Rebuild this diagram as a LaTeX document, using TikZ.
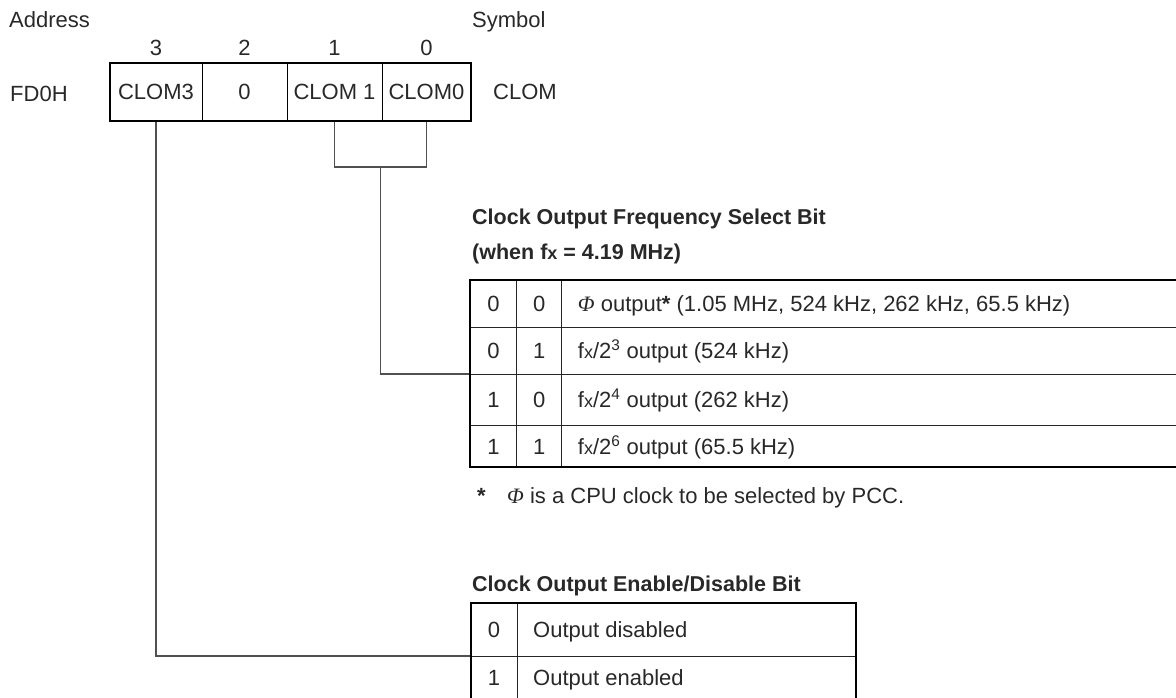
\documentclass[tikz,border=0pt]{standalone}
\usepackage{fontspec}
\setmainfont{Liberation Sans}
\newfontfamily\phifont{Liberation Serif}
\usetikzlibrary{positioning,calc}
\definecolor{InkGray}{RGB}{40,40,40}
\definecolor{WireGray}{RGB}{80,80,80}
\newcommand{\fx}{f{\fontsize{18}{18}\selectfont x}}
\newcommand{\phisym}{{\phifont\itshape Φ}}
\tikzset{
  lbl/.style={inner sep=0pt,text=InkGray,text height=16pt,text depth=0pt,
    font=\fontsize{22}{26}\selectfont},
  field/.style={lbl,draw=black,line width=0.9pt,outer sep=0pt,minimum height=58},
  cell/.style={lbl,outer sep=0pt},
  ttl/.style={lbl,anchor=west,font=\bfseries\fontsize{21.5}{25}\selectfont},
  wire/.style={draw=WireGray,line width=1.2pt},
  frame/.style={draw=black,line width=2.6pt},
  grid/.style={draw=black!85,line width=1pt},
}
\begin{document}
\begin{tikzpicture}[x=1pt,y=-1pt]
\useasboundingbox (0,0) rectangle (1176,698);
% register CLOM
\node[lbl,anchor=west] (addr) at (9,20) {Address};
\node[lbl,anchor=west] (symb) at (472,20) {Symbol};
\node[lbl,anchor=west] (fd0h) at (10,94) {FD0H};
\node[field,minimum width=92,anchor=north west] (b3) at (110,63) {CLOM3};
\node[field,minimum width=85,right=0pt of b3] (b2) {0};
\node[field,minimum width=95,right=0pt of b2] (b1) {CLOM 1};
\node[field,minimum width=89,right=0pt of b1] (b0) {CLOM0};
\foreach \b in {3,2,1,0} \node[lbl,above=7pt of b\b] (n\b) {\b};
\node[lbl,right=22pt of b0] (clom) {CLOM};

% frequency select table
\node[ttl] (t1a) at (472,217) {Clock Output Frequency Select Bit};
\node[ttl] (t1b) at (472,251) {(when \fx{} = 4.19 MHz)};
\foreach \i/\y/\h/\a/\b in {1/303.5/47/0/0,2/350.5/47/0/1,3/399.5/51/1/0,4/446/42/1/1}{
  \node[cell,minimum width=46.7,minimum height=\h] (fa\i) at (493.4,\y) {\a};
  \node[cell,minimum width=45,minimum height=\h,right=0pt of fa\i] (fb\i) {\b};
}
\node[lbl,right=16pt of fb1] (fc1) {\phisym{} output\textbf{*} (1.05 MHz, 524 kHz, 262 kHz, 65.5 kHz)};
\node[lbl,right=16pt of fb2] (fc2) {\fx/2\textsuperscript{3} output (524 kHz)};
\node[lbl,right=16pt of fb3] (fc3) {\fx/2\textsuperscript{4} output (262 kHz)};
\node[lbl,right=16pt of fb4] (fc4) {\fx/2\textsuperscript{6} output (65.5 kHz)};
\node[lbl,anchor=west,font=\bfseries\fontsize{22}{26}\selectfont] (ast) at (477,495) {*};
\node[lbl,anchor=west] (note) at (507,495) {\phisym{} is a CPU clock to be selected by PCC.};

% enable/disable table
\node[ttl] (t2) at (472,583) {Clock Output Enable/Disable Bit};
\node[cell,minimum width=46,minimum height=53] (ea1) at (494,629.5) {0};
\node[cell,minimum width=46,minimum height=42,below=0pt of ea1] (ea2) {1};
\node[lbl,right=16pt of ea1] (eb1) {Output disabled};
\node[lbl,right=16pt of ea2] (eb2) {Output enabled};

% connectors
\draw[wire] (b1.south) -- ++(0,46) coordinate (k1) -| (b0.south);
\coordinate (brk) at ($(k1)!0.5!(b0.south |- k1)$);
\draw[wire] (brk) |- (fa3.north west);
\draw[wire] (b3.south) |- (ea2.north west);

% rules
\draw[frame] (b3.north west) rectangle (b0.south east);
\draw[grid] (fa1.north east) -- (fa4.south east) (fb1.north east) -- (fb4.south east);
\foreach \i in {1,2,3} \draw[grid] (fa\i.south west) -- ++(706,0);
\draw[frame] ($(fa1.north west)+(706,0)$) -- (fa1.north west) -- (fa4.south west) -- ++(706,0);
\draw[grid] (ea1.north east) -- (ea2.south east) (ea1.south west) -- ++(385,0);
\draw[frame] (ea2.south west) -- (ea1.north west) -- ++(385,0) -- ++(0,95);
\end{tikzpicture}
\end{document}
